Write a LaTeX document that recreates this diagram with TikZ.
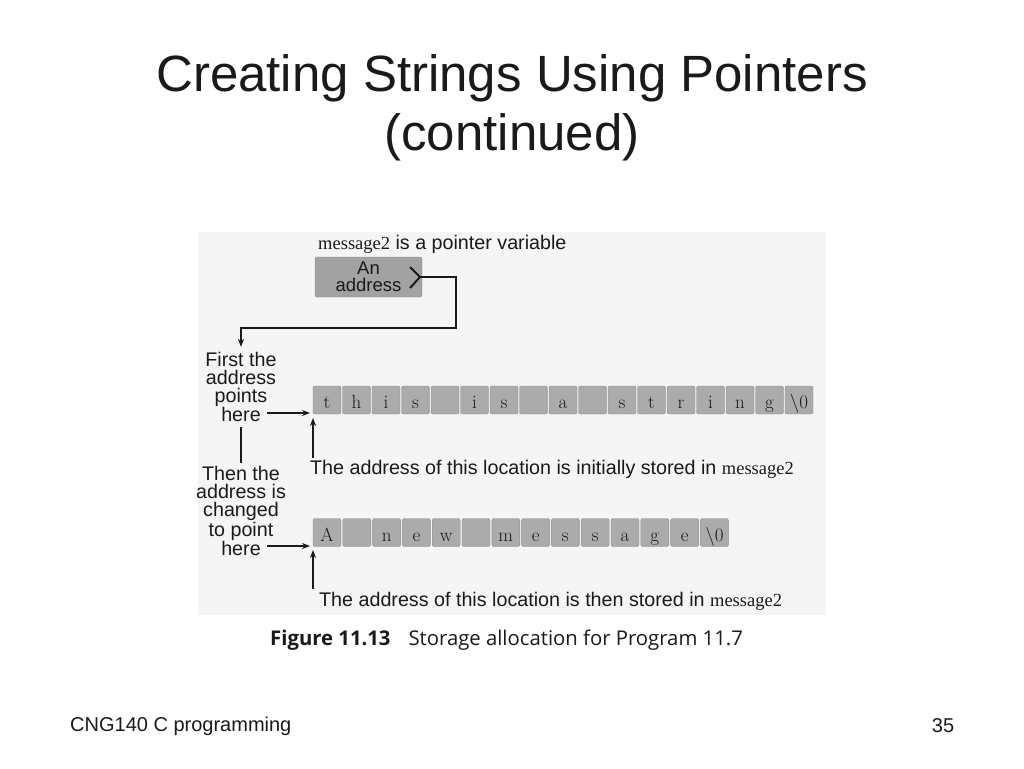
\documentclass[tikz,border=0pt]{standalone}
\usepackage{fontspec}
\newfontfamily\arialfont{Liberation Sans}
\newfontfamily\msgfont{Liberation Serif}
\newfontfamily\capfont{Open Sans}
\usetikzlibrary{arrows.meta}
\definecolor{cellfill}{HTML}{ABABAB}
\definecolor{cellborder}{HTML}{8C8C8C}
\definecolor{boxfill}{HTML}{A2A2A2}
\definecolor{figbg}{HTML}{F5F5F5}
\definecolor{ink}{HTML}{1A1A1A}
\newcommand{\msg}{{\msgfont\fontsize{18.5}{18}\selectfont message2}}
\begin{document}
\begin{tikzpicture}[x=1pt,y=-1pt,
  cell/.style={draw=cellborder, fill=cellfill, rounded corners=2pt, minimum width=28pt, minimum height=28pt, inner sep=0pt, font=\fontsize{19}{19}\selectfont, text=ink, text height=17pt, text depth=0pt},
  lbl/.style={inner sep=0pt, font=\arialfont\fontsize{19.7}{18}\selectfont, text=ink},
  side/.style={lbl, align=center},
  arr/.style={draw=ink, line width=2pt, -{Stealth[length=8pt,width=6pt]}},
  ln/.style={draw=ink, line width=2pt}]
\useasboundingbox (0,0) rectangle (1024,768);
\fill[white] (0,0) rectangle (1024,768);
% title
\node[font=\arialfont\fontsize{51}{59}\selectfont, align=center, text=ink] (title) at (512,108) {Creating Strings Using Pointers\\(continued)};
% figure background
\fill[figbg] (198,232) rectangle (826,615);
% pointer variable
\node[lbl, anchor=west] (ptrlbl) at (318,244) {\msg{} is a pointer variable};
\node[draw=cellborder, fill=boxfill, rounded corners=2pt, minimum width=107pt, minimum height=40pt, inner sep=0pt, align=center, font=\arialfont\fontsize{18.5}{17}\selectfont, text=ink] (box) at (368.5,277) {An\\address};
\draw[ln, line join=miter] (410,267) -- (420,277) -- (410,288);
\coordinate (tip) at (420,277);
\coordinate (bend) at (456,328);
% left labels
\node[side] (first) at (241,387) {First the\\address\\points\\here};
\node[side] (then) at (241,511) {Then the\\address is\\changed\\to point\\here};
\draw[arr] (tip) -| (bend) -| ([yshift=5pt]first.north);
\draw[ln] ([yshift=-5pt]first.south) -- ([yshift=3pt]then.north);
% row 1
\foreach \c [count=\i from 0] in {t,h,i,s,{},i,s,{},a,{},s,t,r,i,n,g,\textbackslash0}
  \node[cell] (r1-\i) at (327+29.5*\i,400) {\c};
% row 2
\foreach \c [count=\i from 0] in {A,{},n,e,w,{},m,e,s,s,a,g,e,\textbackslash0}
  \node[cell] (r2-\i) at (327+29.8*\i,532.5) {\c};
% pointing arrows
\coordinate (h1) at (267,413);
\coordinate (p1) at (310,413);
\draw[arr] (h1) -- (p1);
\coordinate (h2) at (267,546);
\coordinate (p2) at (310,546);
\draw[arr] (h2) -- (p2);
\coordinate (u1) at (313,458);
\coordinate (t1) at (313,418);
\draw[arr] (u1) -- (t1);
\coordinate (u2) at (313,589);
\coordinate (t2) at (313,550);
\draw[arr] (u2) -- (t2);
% address texts
\node[lbl, anchor=west] (txt1) at (310,469) {The address of this location is initially stored in \msg};
\node[lbl, anchor=west] (txt2) at (319,601) {The address of this location is then stored in \msg};
% caption
\node[anchor=west, inner sep=0pt, font=\capfont\fontsize{20.3}{20}\selectfont, text=ink] (cap) at (270,640) {\textbf{Figure 11.13}\hspace{18pt}Storage allocation for Program 11.7};
% footer
\node[anchor=west, inner sep=0pt, font=\arialfont\fontsize{20}{20}\selectfont, text=ink] (foot) at (70,726) {CNG140 C programming};
\node[inner sep=0pt, font=\arialfont\fontsize{20}{20}\selectfont, text=ink] (page) at (943,726) {35};
\end{tikzpicture}
\end{document}
